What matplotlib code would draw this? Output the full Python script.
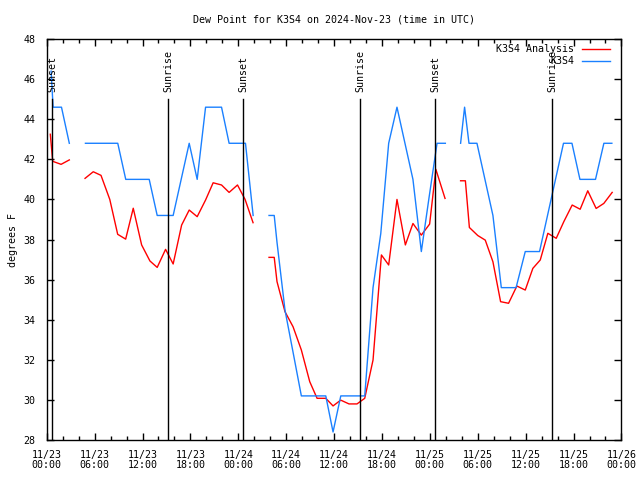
import numpy as np
import matplotlib
matplotlib.use('Agg')
import matplotlib.pyplot as plt
from matplotlib.ticker import MultipleLocator

plt.rcParams['font.family'] = ['DejaVu Sans Mono', 'DejaVu Sans']
plt.rcParams['font.size'] = 7.2

# hours since 2024-11-23 00:00 UTC, nan = missing hour (line break)
nan = np.nan
t_anal = [0.45, 0.75, 1.8, 2.83, 3.85, 4.8, 5.83, 6.8, 7.9, 8.89, 9.89, 10.84, 11.89,
          12.93, 13.84, 14.89, 15.84, 16.9, 17.85, 18.85, 19.9, 20.85, 21.9, 22.85,
          23.9, 24.85, 25.85, 26.85, 27.85, 28.5, 28.85, 29.85, 30.86, 31.9, 32.95,
          33.87, 34.96, 35.87, 36.83, 37.87, 38.87, 39.84, 40.88, 41.93, 42.84, 43.88,
          44.93, 45.88, 46.93, 47.97, 48.75, 49.9, 50.85, 51.85, 52.45, 52.95, 54.0,
          54.94, 55.9, 56.86, 57.86, 58.9, 59.95, 60.9, 61.83, 62.78, 63.83, 64.78,
          65.83, 66.83, 67.78, 68.83, 69.79, 70.84]
dp_anal = [43.25, 41.9, 41.75, 41.97, nan, 41.05, 41.38, 41.2, 40.0, 38.26, 38.02, 39.56,
           37.73, 36.93, 36.61, 37.51, 36.78, 38.72, 39.47, 39.14, 39.97, 40.83, 40.72,
           40.35, 40.72, 40.0, 38.84, nan, 37.11, 37.11, 35.9, 34.4, 33.65, 32.49, 30.91,
           30.08, 30.08, 29.7, 29.99, 29.8, 29.8, 30.08, 31.99, 37.23, 36.73, 40.0,
           37.73, 38.8, 38.22, 38.77, 41.5, 40.05, nan, 40.93, 40.93, 38.6, 38.2,
           37.97, 36.89, 34.9, 34.82, 35.68, 35.48, 36.56, 36.98, 38.31, 38.06, 38.89,
           39.72, 39.51, 40.43, 39.55, 39.8, 40.35]

t_obs = [0.55, 0.8, 1.85, 2.83, 3.85, 4.85, 8.9, 9.9, 12.84, 13.84, 15.84, 17.85, 18.85,
         19.9, 21.9, 22.85, 24.9, 25.86, 26.85, 27.85, 28.5, 28.85, 29.85, 30.85, 31.9,
         34.96, 35.87, 36.84, 39.84, 40.88, 41.85, 42.84, 43.88, 44.88, 45.88, 46.93,
         47.9, 48.9, 49.94, 50.85, 51.85, 52.35, 52.9, 53.9, 54.9, 55.9, 56.95, 58.8,
         59.95, 61.74, 64.74, 65.8, 66.8, 68.75, 69.8, 70.8]
dp_obs = [46.4, 44.6, 44.6, 42.8, nan, 42.8, 42.8, 41.0, 41.0, 39.2, 39.2, 42.8, 41.0,
          44.6, 44.6, 42.8, 42.8, 39.2, nan, 39.2, 39.2, 37.86, 34.48, 32.4, 30.2,
          30.2, 28.4, 30.2, 30.2, 35.6, 38.3, 42.8, 44.6, 42.8, 41.0, 37.4,
          40.1, 42.8, 42.8, nan, 42.8, 44.6, 42.8, 42.8, 41.0, 39.2, 35.6, 35.6,
          37.4, 37.4, 42.8, 42.8, 41.0, 41.0, 42.8, 42.8]

sun_t = [0.7, 15.22, 24.6, 39.25, 48.63, 63.3]
sun_lab = ['Sunset', 'Sunrise', 'Sunset', 'Sunrise', 'Sunset', 'Sunrise']

tick_hours = list(range(0, 73, 6))
tick_labels = ['11/23\n00:00', '11/23\n06:00', '11/23\n12:00', '11/23\n18:00',
               '11/24\n00:00', '11/24\n06:00', '11/24\n12:00', '11/24\n18:00',
               '11/25\n00:00', '11/25\n06:00', '11/25\n12:00', '11/25\n18:00',
               '11/26\n00:00']

fig = plt.figure(figsize=(6.4, 4.8), dpi=100)
ax = fig.add_axes([0.073, 0.0833, 0.898, 0.8354])

ax.plot(t_anal, dp_anal, color='#ff0000', lw=1, label='K3S4 Analysis')
ax.plot(t_obs, dp_obs, color='#1a80ff', lw=1, label='K3S4')

for st, lab in zip(sun_t, sun_lab):
    ax.plot([st, st], [28, 45.0], color='black', lw=1)
    ax.text(st, 45.35, lab, rotation=90, ha='center', va='bottom', fontsize=7.2)

ax.set_xlim(0, 72)
ax.set_ylim(28, 48)
ax.set_xticks(tick_hours)
ax.set_xticklabels(tick_labels, linespacing=1.05)
ax.xaxis.set_minor_locator(MultipleLocator(2))
ax.set_yticks(range(28, 49, 2))
ax.tick_params(direction='in', top=True, right=True, length=5, width=1, pad=7)
ax.tick_params(which='minor', direction='in', top=True, length=3, width=1)
ax.tick_params(axis='y', pad=8)
for s in ax.spines.values():
    s.set_linewidth(1)

ax.set_ylabel('degrees F', labelpad=4)
ax.set_title('Dew Point for K3S4 on 2024-Nov-23 (time in UTC)', fontsize=7.2, pad=12)

leg = ax.legend(loc='upper right', bbox_to_anchor=(0.98, 0.987), frameon=False,
                markerfirst=False, handlelength=2.8, borderpad=0, borderaxespad=0,
                labelspacing=0.2, handletextpad=0.8, fontsize=7.2)

fig.savefig('out.png', dpi=100)
